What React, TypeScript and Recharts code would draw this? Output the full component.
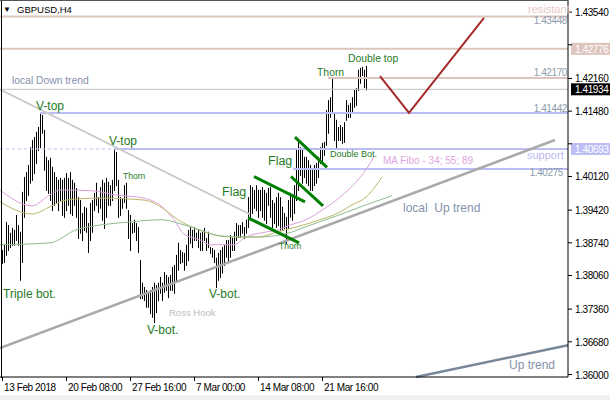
import React from "react";
import { ComposedChart, Bar, Line, XAxis, YAxis, ReferenceLine, ReferenceDot } from "recharts";

var FONT = "'Liberation Sans', Arial, Helvetica, sans-serif";

// GBPUSD H4 bars, oldest first (index 0 = 13 Feb 2018 00:00)
var barHigh = [
  1.3859, 1.3870, 1.3917, 1.3911, 1.3895, 1.3905, 1.3901, 1.3932, 1.3911, 1.3897,
  1.3980, 1.4011, 1.4021, 1.4036, 1.4073, 1.4088, 1.4094, 1.4105, 1.4115, 1.4144,
  1.4140, 1.4109, 1.4053, 1.4046, 1.4051, 1.4032, 1.4021, 1.4011, 1.4005, 1.4009,
  1.4005, 1.4009, 1.4019, 1.4009, 1.4021, 1.4005, 1.3999, 1.3988, 1.3969, 1.3963,
  1.3936, 1.3949, 1.3947, 1.3915, 1.3957, 1.3963, 1.3978, 1.3999, 1.3969, 1.3990,
  1.4005, 1.3999, 1.4009, 1.4001, 1.3994, 1.4005, 1.4067, 1.4063, 1.4005, 1.3969,
  1.3967, 1.3994, 1.3999, 1.3942, 1.3932, 1.3915, 1.3922, 1.3915, 1.3907, 1.3838,
  1.3791, 1.3782, 1.3776, 1.3770, 1.3776, 1.3782, 1.3791, 1.3786, 1.3791, 1.3803,
  1.3791, 1.3813, 1.3807, 1.3803, 1.3807, 1.3824, 1.3828, 1.3849, 1.3874, 1.3859,
  1.3855, 1.3853, 1.3870, 1.3901, 1.3907, 1.3901, 1.3907, 1.3895, 1.3901, 1.3895,
  1.3897, 1.3905, 1.3884, 1.3897, 1.3865, 1.3863, 1.3859, 1.3843, 1.3853, 1.3859,
  1.3865, 1.3870, 1.3880, 1.3880, 1.3890, 1.3884, 1.3897, 1.3915, 1.3911, 1.3911,
  1.3917, 1.3907, 1.3922, 1.3969, 1.3994, 1.3990, 1.3984, 1.3994, 1.3984, 1.3984,
  1.3990, 1.3984, 1.3978, 1.3988, 1.3990, 1.3963, 1.3957, 1.3969, 1.3978, 1.3969,
  1.3949, 1.3936, 1.3928, 1.3963, 1.3978, 1.3969, 1.3994, 1.4067, 1.4088, 1.4073,
  1.4067, 1.4053, 1.4053, 1.4046, 1.4036, 1.4026, 1.4036, 1.4040, 1.4053, 1.4073,
  1.4082, 1.4084, 1.4150, 1.4171, 1.4177, 1.4217, 1.4144, 1.4130, 1.4115, 1.4119,
  1.4115, 1.4125, 1.4171, 1.4161, 1.4165, 1.4177, 1.4192, 1.4196, 1.4234, 1.4238,
  1.4240, 1.4234, 1.4242,
];
var barLow = [
  1.3832, 1.3834, 1.3849, 1.3859, 1.3865, 1.3870, 1.3870, 1.3880, 1.3870, 1.3797,
  1.3834, 1.3928, 1.3963, 1.3974, 1.3999, 1.4005, 1.4019, 1.4040, 1.4067, 1.4073,
  1.4103, 1.4026, 1.3984, 1.3978, 1.3963, 1.3942, 1.3953, 1.3957, 1.3942, 1.3963,
  1.3932, 1.3928, 1.3942, 1.3953, 1.3936, 1.3932, 1.3953, 1.3928, 1.3884, 1.3895,
  1.3880, 1.3901, 1.3897, 1.3855, 1.3880, 1.3897, 1.3942, 1.3953, 1.3938, 1.3947,
  1.3922, 1.3905, 1.3928, 1.3953, 1.3953, 1.3963, 1.3984, 1.3994, 1.3928, 1.3932,
  1.3947, 1.3959, 1.3947, 1.3884, 1.3859, 1.3895, 1.3897, 1.3880, 1.3855, 1.3759,
  1.3759, 1.3755, 1.3741, 1.3741, 1.3728, 1.3720, 1.3709, 1.3730, 1.3755, 1.3770,
  1.3755, 1.3772, 1.3776, 1.3761, 1.3776, 1.3776, 1.3770, 1.3793, 1.3818, 1.3832,
  1.3834, 1.3818, 1.3828, 1.3838, 1.3874, 1.3865, 1.3880, 1.3880, 1.3865, 1.3859,
  1.3859, 1.3880, 1.3859, 1.3865, 1.3853, 1.3845, 1.3834, 1.3782, 1.3797, 1.3803,
  1.3812, 1.3828, 1.3845, 1.3838, 1.3845, 1.3859, 1.3859, 1.3880, 1.3886, 1.3886,
  1.3895, 1.3884, 1.3895, 1.3907, 1.3928, 1.3936, 1.3947, 1.3942, 1.3928, 1.3942,
  1.3928, 1.3922, 1.3915, 1.3953, 1.3928, 1.3907, 1.3915, 1.3907, 1.3911, 1.3901,
  1.3901, 1.3905, 1.3874, 1.3905, 1.3928, 1.3922, 1.3936, 1.3963, 1.3984, 1.4015,
  1.3999, 1.4011, 1.3999, 1.3994, 1.3984, 1.3984, 1.3994, 1.3999, 1.4011, 1.4040,
  1.4046, 1.4057, 1.4078, 1.4103, 1.4136, 1.4144, 1.4088, 1.4073, 1.4088, 1.4088,
  1.4082, 1.4084, 1.4130, 1.4136, 1.4136, 1.4144, 1.4157, 1.4161, 1.4192, 1.4207,
  1.4223, 1.4198, 1.4193,
];

// MA Fibo 34 / 55 / 89, read at a few bars
var maFastAt = [-1, 15, 24, 29, 46, 56, 71, 80, 86, 91, 99, 104, 116, 122, 130, 138, 144, 152, 160, 169, 178, 182, 186];
var maFast = [1.3984, 1.3951, 1.3974, 1.3984, 1.3982, 1.3974, 1.3967, 1.3949, 1.3922, 1.3892, 1.3880, 1.3870, 1.3870, 1.3886, 1.3895, 1.3901, 1.3911, 1.3922, 1.3942, 1.3969, 1.4005, 1.4026, 1.4053];
var maMidAt = [-1, 15, 24, 32, 49, 71, 80, 88, 96, 104, 116, 128, 138, 149, 159, 166, 175, 182, 190];
var maMid = [1.3959, 1.3934, 1.3949, 1.3963, 1.3967, 1.3963, 1.3947, 1.3922, 1.3905, 1.3893, 1.3886, 1.3886, 1.3897, 1.3909, 1.3922, 1.3932, 1.3953, 1.3969, 1.4011];
var maSlowAt = [-1, 24, 37, 49, 63, 80, 88, 96, 110, 128, 144, 149, 166, 182, 195];
var maSlow = [1.3870, 1.3874, 1.3901, 1.3911, 1.3917, 1.3922, 1.3915, 1.3905, 1.3888, 1.3886, 1.3895, 1.3903, 1.3928, 1.3953, 1.3972];

// projected path after the double top
var projAt = [189, 203.5, 241];
var projPrice = [1.4221, 1.41442, 1.4342];

// horizontal levels
var resistLevels = [1.43448, 1.42776, 1.4217];
var resistFrom = [-1, -1, 163];
var supportLevels = [1.41442, 1.40693, 1.40275];
var supportFrom = [19, 56, 145.5];
var lastPrice = 1.41934;

// trend lines as [i1, p1, i2, p2]
var downTrend = [-1, 1.4193, 124, 1.3933];
var localUpTrend = [-1, 1.3655, 276.5, 1.4088];
var upTrend = [207, 1.3595, 283, 1.3661];
var flagLines = [
  [123, 1.3926, 148.5, 1.3874],
  [126, 1.4012, 151.5, 1.3959],
  [144.5, 1.4012, 160.5, 1.3951],
  [146.5, 1.4094, 162.5, 1.4031],
];

var dateTicks = [0, 32, 64, 96, 128, 160];
var dateLabels = ["13 Feb 2018", "20 Feb 08:00", "27 Feb 16:00", "7 Mar 00:00", "14 Mar 08:00", "21 Mar 16:00"];
var priceTicks = [1.4354, 1.4286, 1.4216, 1.4148, 1.408, 1.4012, 1.3942, 1.3874, 1.3806, 1.3736, 1.3668, 1.36];
// these two ticks sit under the level price boxes on the axis
var hiddenTicks = [1.4286, 1.408];

// chart notes: text, bar index, price of the text baseline, kind
var noteText = ["\u25BC", "GBPUSD,H4", "local Down trend", "V-top", "V-top", "Thorn", "Triple bot.", "V-bot.", "Ross Hook", "V-bot.",
  "Thorn", "Flag", "Flag", "Thorn", "Double top", "Double Bot.", "MA Fibo - 34; 55; 89", "support", "local  Up trend", "Up trend",
  "resistant", "1.43448", "1.42170", "1.41442", "1.40275"];
var noteAt = [0.5, 7.5, 5, 17, 53.5, 60.5, 0.5, 72.5, 83.5, 103.5,
  138.5, 110, 133, 157.5, 173, 164, 190.5, 262.5, 200.5, 253.5,
  263, 282.5, 282.5, 282.5, 280.5];
var notePrice = [1.4354, 1.4352, 1.4204, 1.4150, 1.4078, 1.4007, 1.3759, 1.3684, 1.3722, 1.3759,
  1.3861, 1.3972, 1.4036, 1.4221, 1.4250, 1.4053, 1.4038, 1.4049, 1.3938, 1.3612,
  1.4352, 1.4329, 1.4221, 1.4146, 1.4013];
var noteKind = ["arrow", "title", "trend", "pattern", "pattern", "tiny", "pattern", "pattern", "ross", "pattern",
  "tiny", "flag", "flag", "mid", "mid", "small", "ma", "sup", "trendBig", "trendBig",
  "res", "level", "level", "level", "level"];

var GREEN_TXT = "#1f7a1f";
var noteStyles: Record<string, any> = {
  arrow: { color: "#000", size: 8 },
  title: { color: "#000", size: 9.5 },
  trend: { color: "#8492ab", size: 10.3 },
  trendBig: { color: "#8492ab", size: 12 },
  pattern: { color: GREEN_TXT, size: 12 },
  flag: { color: GREEN_TXT, size: 12.5 },
  mid: { color: GREEN_TXT, size: 10.4 },
  small: { color: GREEN_TXT, size: 9 },
  tiny: { color: GREEN_TXT, size: 8.5 },
  ross: { color: "#bdbdbd", size: 9.5 },
  ma: { color: "#e0a6e0", size: 10 },
  sup: { color: "#b9b9f0", size: 11 },
  res: { color: "#e8c9c5", size: 11 },
  level: { color: "#8e9bac", size: 10, anchor: "end", spacing: -0.4 },
};

var RES_COLOR = "#ddc5be";
var SUP_COLOR = "#bdbdf5";

var bars = barHigh.map(function (h, i) {
  return { i: i, range: [barLow[i], h] };
});

function toPoints(at: number[], vals: number[]) {
  return at.map(function (i, k) { return { i: i, v: vals[k] }; });
}

/** Plain high-low stick, one pixel wide. */
function HiLoBar(props: any) {
  var x = props.x, y = props.y, w = props.width, h = props.height;
  if (x == null || y == null || h == null) return null;
  var top = Math.min(y, y + h);
  var cx = Math.round(x + w / 2) + 0.5;
  return <line x1={cx} x2={cx} y1={top} y2={top + Math.abs(h) + 1} stroke="#000" strokeWidth={1} />;
}

function PriceTick(props: any) {
  var x = props.x, y = props.y, payload = props.payload;
  if (hiddenTicks.indexOf(payload.value) >= 0) return <g />;
  return (
    <text x={x} y={y + 4} fontSize={10} fontFamily={FONT} letterSpacing={-0.4} fill="#000">
      {Number(payload.value).toFixed(5)}
    </text>
  );
}

function DateTick(props: any) {
  var x = props.x, y = props.y, payload = props.payload;
  var idx = dateTicks.indexOf(payload.value);
  return (
    <g>
      <line x1={x + 0.5} x2={x + 0.5} y1={y} y2={y + 4} stroke="#000" />
      <text x={x + 2} y={y + 14} fontSize={10} fontFamily={FONT} letterSpacing={-0.4} fill="#000">
        {idx >= 0 ? dateLabels[idx] : ""}
      </text>
    </g>
  );
}

function noteLabel(text: string, kind: string) {
  var st = noteStyles[kind];
  return function (p: any) {
    var vb = p.viewBox || {};
    return (
      <text x={vb.x} y={vb.y} fill={st.color} fontSize={st.size} fontFamily={FONT}
        textAnchor={st.anchor || "start"} letterSpacing={st.spacing || 0} style={{ whiteSpace: "pre" }}>
        {text}
      </text>
    );
  };
}

// price box drawn on the right axis for a level
function axisBox(value: number, bg: string) {
  return function (p: any) {
    var vb = p.viewBox || {};
    var x = vb.x + vb.width + 3;
    return (
      <g>
        <rect x={x} y={vb.y - 6} width={40} height={12} fill={bg} />
        <text x={x + 4} y={vb.y + 4} fontSize={10} fontFamily={FONT} letterSpacing={-0.4} fill="#fff">
          {value.toFixed(5)}
        </text>
      </g>
    );
  };
}

function seg(a: number[]) {
  return [{ x: a[0], y: a[1] }, { x: a[2], y: a[3] }];
}

export default function App() {
  return (
    <div style={{ position: "absolute", left: 0, top: 0, width: 610, height: 400, background: "#fff", overflow: "hidden" }}>
      <ComposedChart width={610} height={400} data={bars} margin={{ top: 0, right: 0, left: 0, bottom: 0 }}>
        <XAxis dataKey="i" type="number" domain={[-1, 283]} ticks={dateTicks} interval={0} allowDataOverflow
          height={23} tickSize={0} tickMargin={0} tick={DateTick} axisLine={{ stroke: "#000" }} />
        <YAxis orientation="right" type="number" domain={[1.35948, 1.43792]} ticks={priceTicks} interval={0}
          allowDataOverflow width={42} tickSize={4} tickMargin={3} tick={PriceTick}
          axisLine={{ stroke: "#000" }} tickLine={{ stroke: "#000" }} />

        {/* levels */}
        {resistLevels.map(function (v, k) {
          return (
            <ReferenceLine key={"r" + k} segment={[{ x: resistFrom[k], y: v }, { x: 283, y: v }]}
              stroke={RES_COLOR} strokeWidth={2}
              label={v === 1.42776 ? axisBox(v, RES_COLOR) : undefined} />
          );
        })}
        <ReferenceLine segment={[{ x: -1, y: 1.40693 }, { x: 56, y: 1.40693 }]} stroke={SUP_COLOR} strokeWidth={1} strokeDasharray="3 3" />
        {supportLevels.map(function (v, k) {
          return (
            <ReferenceLine key={"s" + k} segment={[{ x: supportFrom[k], y: v }, { x: 283, y: v }]}
              stroke={SUP_COLOR} strokeWidth={2}
              label={v === 1.40693 ? axisBox(v, SUP_COLOR) : undefined} />
          );
        })}
        <ReferenceLine segment={[{ x: -1, y: lastPrice }, { x: 283, y: lastPrice }]} stroke="#c0c0c0" strokeWidth={1}
          label={axisBox(lastPrice, "#000")} />

        {/* trend lines */}
        <ReferenceLine segment={seg(downTrend)} stroke="#cdcdcd" strokeWidth={2} />
        <ReferenceLine segment={seg(localUpTrend)} stroke="#a9a9a9" strokeWidth={2.5} />
        <ReferenceLine segment={seg(upTrend)} stroke="#778899" strokeWidth={2.5} />

        <Bar dataKey="range" barSize={1} shape={HiLoBar} isAnimationActive={false} />

        <Line data={toPoints(maFastAt, maFast)} dataKey="v" type="monotone" stroke="#dda0dd" strokeWidth={1} dot={false} activeDot={false} isAnimationActive={false} />
        <Line data={toPoints(maMidAt, maMid)} dataKey="v" type="monotone" stroke="#bdb76b" strokeWidth={1} dot={false} activeDot={false} isAnimationActive={false} />
        <Line data={toPoints(maSlowAt, maSlow)} dataKey="v" type="monotone" stroke="#8fbc8f" strokeWidth={1} dot={false} activeDot={false} isAnimationActive={false} />

        {flagLines.map(function (f, k) {
          return <ReferenceLine key={"f" + k} segment={seg(f)} stroke="#008000" strokeWidth={3} />;
        })}

        <Line data={toPoints(projAt, projPrice)} dataKey="v" type="linear" stroke="#a52a2a" strokeWidth={2} dot={false} activeDot={false} isAnimationActive={false} />

        {noteText.map(function (t, k) {
          return (
            <ReferenceDot key={"n" + k} x={noteAt[k]} y={notePrice[k]} r={0} fill="none" stroke="none"
              label={noteLabel(t, noteKind[k])} />
          );
        })}
      </ComposedChart>
      <div style={{ position: "absolute", left: 1, top: 0, width: 1, height: 378, background: "#000" }} />
      <div style={{ position: "absolute", left: 0, top: 0, width: 568, height: 1, background: "#555" }} />
      <div style={{ position: "absolute", left: 0, top: 395, width: 610, height: 5, background: "#f0f0f0" }} />
    </div>
  );
}
